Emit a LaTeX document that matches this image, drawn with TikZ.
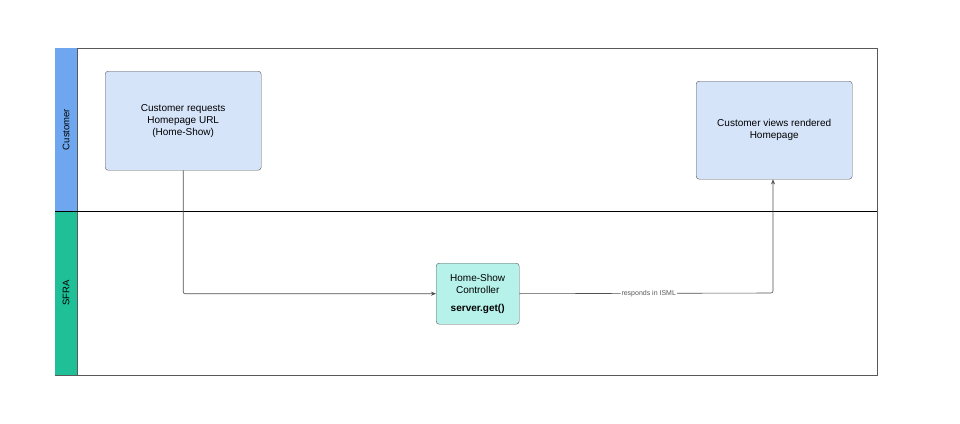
\documentclass[tikz,border=0pt]{standalone}
\usepackage{fontspec}
\setmainfont{Liberation Sans}
\usetikzlibrary{arrows.meta}
\definecolor{bluebox}{HTML}{D6E4FA}
\definecolor{bluebar}{HTML}{6EA6F0}
\definecolor{greenbar}{HTML}{1FBF98}
\definecolor{tealbox}{HTML}{B6F2EA}
\definecolor{edge}{HTML}{505050}
\begin{document}
\begin{tikzpicture}[x=1pt,y=-1pt,
  box/.style={draw=gray!70!black,rounded corners=3pt,fill=bluebox,align=center,font=\fontsize{10}{12}\selectfont,anchor=north west,inner sep=0pt},
  conn/.style={draw=edge,line width=0.6pt,rounded corners=2pt,-{Stealth[length=5pt,width=4pt]}}]
\useasboundingbox (0,0) rectangle (960,423);
\fill[white] (0,0) rectangle (960,423);
\draw[gray!70!black,line width=0.6pt] (55,48) rectangle (877,375);
\fill[bluebar] (55,48) rectangle (77,211);
\fill[greenbar] (55,211) rectangle (77,375);
\draw[gray!70!black,line width=0.6pt] (77,48) -- (77,375);
\draw[black,line width=0.6pt] (55,211) -- (877,211);
\node[rotate=90,font=\fontsize{9.5}{11}\selectfont] (l1) at (66,129.5) {Customer};
\node[rotate=90,font=\fontsize{9.5}{11}\selectfont] (l2) at (66,293) {SFRA};
\node[box,minimum width=156pt,minimum height=99pt] (a) at (105,71) {Customer requests\\Homepage URL\\(Home-Show)};
\node[box,minimum width=156pt,minimum height=98pt] (b) at (696,81) {Customer views rendered\\Homepage};
\node[box,fill=tealbox,minimum width=83pt,minimum height=61pt] (c) at (436,263) {Home-Show\\Controller\\[6pt]\textbf{server.get()}};
\draw[conn] (a.south) |- (c.west);
\draw[conn] (c.east) -- node[pos=0.51,fill=white,inner sep=1pt,font=\fontsize{7}{8}\selectfont,text=gray!70!black]{responds in ISML} (773,293) -- (b.south -| 773,0);
\end{tikzpicture}
\end{document}
